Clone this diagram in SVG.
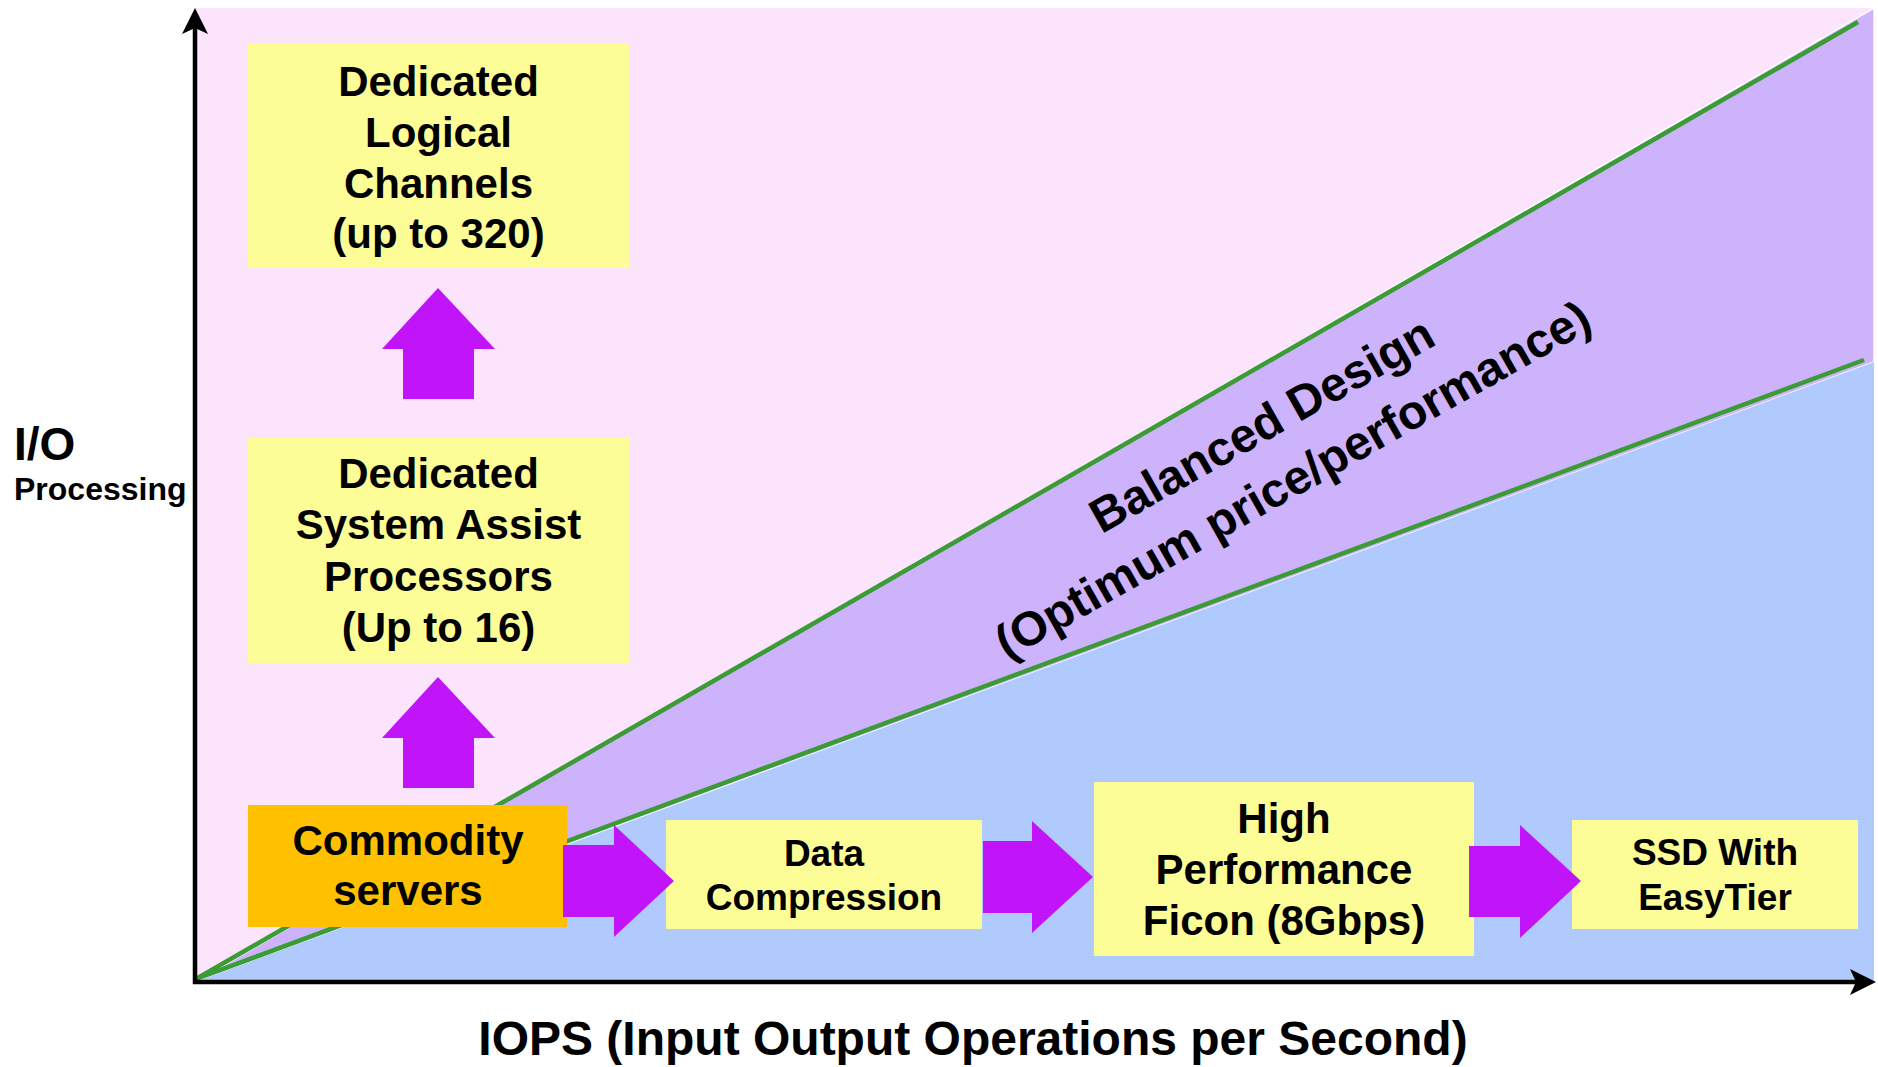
<svg xmlns="http://www.w3.org/2000/svg" width="1878" height="1067" viewBox="0 0 1878 1067">
<style>
text{font-family:"Liberation Sans",Arial,sans-serif;font-weight:bold;fill:#000}
.box{fill:#FDFD98}
.t42{font-size:42px;text-anchor:middle}
.t37{font-size:37px;text-anchor:middle}
.arr{fill:#C214F9}
.green{stroke:#3B9B35;stroke-width:4.5;fill:none}
.axis{stroke:#000;stroke-width:4.5;fill:none}
</style>
<rect width="1878" height="1067" fill="#FFFFFF"/>
<g id="background">
<rect x="195" y="8" width="1679" height="974" fill="#FDE4FD"/>
<polygon points="195,982 1874,8 1874,362" fill="#CDB2FC" stroke="#FFFFFF" stroke-width="1.5"/>
<polygon points="195,982 1874,362 1874,982" fill="#B0CAFD"/>
<line class="green" x1="196" y1="979" x2="1858" y2="22"/>
<line class="green" x1="196" y1="979" x2="1864" y2="360"/>
</g>
<g id="axes">
<line class="axis" x1="195" y1="984" x2="195" y2="24"/>
<polygon points="195,8 208,34 195,28 182,34" fill="#000"/>
<line class="axis" x1="193" y1="982" x2="1862" y2="982"/>
<polygon points="1876,982 1850,969 1856,982 1850,995" fill="#000"/>
</g>
<g id="label-y">
<text x="14" y="460" font-size="46">I/O</text>
<text x="14" y="500" font-size="32">Processing</text>
</g>
<g id="label-x">
<text x="973" y="1055" font-size="48" text-anchor="middle">IOPS (Input Output Operations per Second)</text>
</g>
<g id="balanced-design" transform="translate(1285,466) rotate(-29.5)">
<text x="0" y="-31" font-size="48" text-anchor="middle">Balanced Design</text>
<text x="0" y="32" font-size="48" text-anchor="middle">(Optimum price/performance)</text>
</g>
<g id="node-logical-channels">
<rect class="box" x="248" y="44" width="381" height="224"/>
<text class="t42" x="438.5" y="96">Dedicated</text>
<text class="t42" x="438.5" y="147">Logical</text>
<text class="t42" x="438.5" y="198">Channels</text>
<text class="t42" x="438.5" y="248">(up to 320)</text>
</g>
<g id="node-sap">
<rect class="box" x="248" y="438" width="381" height="225"/>
<text class="t42" x="438.5" y="488">Dedicated</text>
<text class="t42" x="438.5" y="539">System Assist</text>
<text class="t42" x="438.5" y="591">Processors</text>
<text class="t42" x="438.5" y="642">(Up to 16)</text>
</g>
<g id="node-commodity">
<rect x="248" y="805" width="319" height="122" fill="#FFC000"/>
<text class="t42" x="408" y="855">Commodity</text>
<text class="t42" x="408" y="905">servers</text>
</g>
<g id="node-compression">
<rect class="box" x="666" y="820" width="316" height="109"/>
<text class="t37" x="824" y="866">Data</text>
<text class="t37" x="824" y="910">Compression</text>
</g>
<g id="node-ficon">
<rect class="box" x="1094" y="782" width="380" height="174"/>
<text class="t42" x="1284" y="833">High</text>
<text class="t42" x="1284" y="884">Performance</text>
<text class="t42" x="1284" y="935">Ficon (8Gbps)</text>
</g>
<g id="node-ssd">
<rect class="box" x="1572" y="820" width="286" height="109"/>
<text class="t37" x="1715" y="865">SSD With</text>
<text class="t37" x="1715" y="910">EasyTier</text>
</g>
<g id="connectors">
<polygon class="arr" points="438,288 495,349 474,349 474,399 403,399 403,349 382,349"/>
<polygon class="arr" points="438,677 495,738 474,738 474,788 403,788 403,738 382,738"/>
<polygon class="arr" points="563,845 614,845 614,825 674,881 614,937 614,917 563,917"/>
<polygon class="arr" points="983,841 1032,841 1032,821 1093,877 1032,933 1032,913 983,913"/>
<polygon class="arr" points="1469,846 1520,846 1520,825 1581,881 1520,938 1520,917 1469,917"/>
</g>
</svg>
